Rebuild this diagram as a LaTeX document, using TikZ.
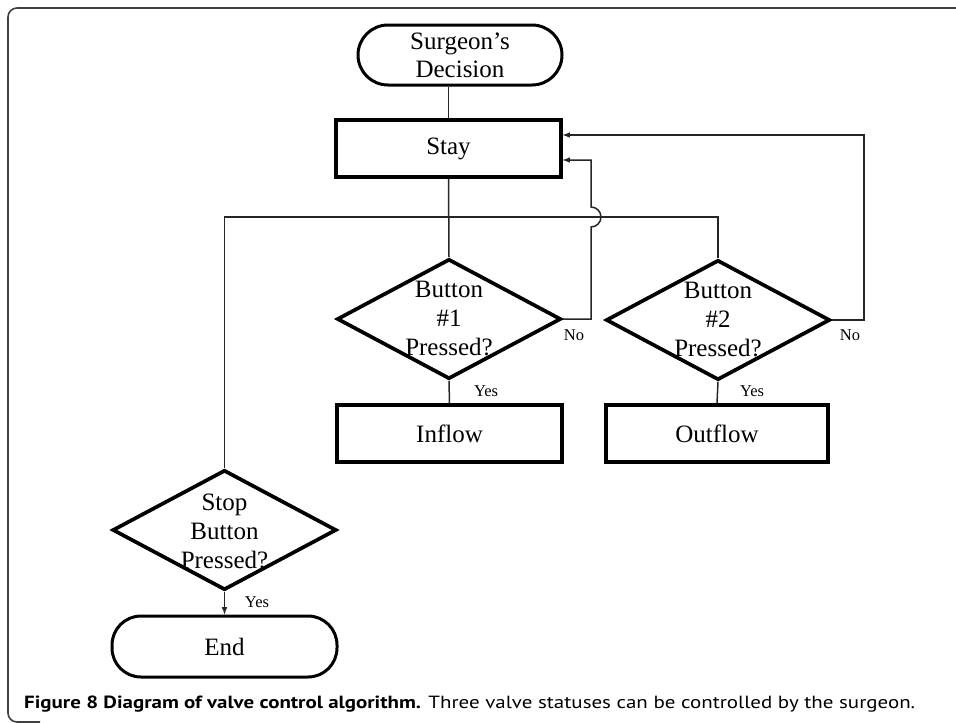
\documentclass[tikz,border=0pt]{standalone}
\usepackage{fontspec}
\setmainfont{Liberation Serif}
\newfontfamily\capfont{PT Sans}
\usetikzlibrary{shapes.geometric,arrows}

\begin{document}
\begin{tikzpicture}[x=1pt,y=-1pt]
	\tikzstyle{terminal}=[draw=black,line width=3pt,rectangle,rounded corners=29pt,minimum width=222pt,minimum height=59pt,font=\fontsize{25}{28}\selectfont,align=center]
	\tikzstyle{process}=[draw=black,line width=3.2pt,rectangle,minimum width=225pt,minimum height=57pt,font=\fontsize{25}{29}\selectfont]
	\tikzstyle{decision}=[draw=black,line width=3.7pt,diamond,inner sep=0pt,minimum width=224pt,minimum height=120pt]
	\tikzstyle{dtext}=[align=center,font=\fontsize{25}{29}\selectfont,inner sep=0pt]
	\tikzstyle{answer}=[font=\fontsize{16.5}{18}\selectfont,inner sep=0pt]
	\tikzstyle{line}=[draw=black!85,line width=1.5pt]
	\tikzstyle{edge}=[draw=black!85,line width=1.5pt,->,>=latex]
	\useasboundingbox (0,0) rectangle (956,723);
	% frame and caption
	\draw[black!75,line width=1.6pt,rounded corners=9pt] (960,8) -- (8,8) -- (8,722) -- (40,722);
	\node[anchor=base west,inner sep=0pt] (caption) at (24,708) {\resizebox{891pt}{12.6pt}{\capfont\textbf{Figure 8 Diagram of valve control algorithm.} Three valve statuses can be controlled by the surgeon.}};
	\begin{scope}
		\node [terminal,minimum width=204pt,minimum height=60pt,rounded corners=30pt] (start) at (460,55) {Surgeon's\\Decision};
		\node [process] (stay) at (448.5,148.5) {Stay};
		\node [decision] (b1) at (449,319) {};
		\node [dtext] (b1t) at (449,318) {Button\\\#1\\Pressed?};
		\node [decision] (b2) at (718,320) {};
		\node [dtext] (b2t) at (718,319) {Button\\\#2\\Pressed?};
		\node [process] (inflow) at (449.5,433.5) {Inflow};
		\node [process,minimum width=222pt] (outflow) at (717,433.5) {Outflow};
		\node [decision] (stop) at (224.5,530) {};
		\node [dtext] (stopt) at (224.5,531) {Stop\\Button\\Pressed?};
		\node [terminal,minimum width=225pt,minimum height=61pt] (end) at (224.5,646.5) {End};
		\coordinate (j) at (449,217);
		\coordinate (jb) at (591,227);
		\coordinate (k1) at (591,160);
		\coordinate (k2) at (864,135);
		\path[line] (stay.north) -- (stay.north |- start.south);
		\path[line] (stay.south) -- (b1.north);
		\path[line] (stop.north) |- (j);
		\path[line] (j) -| (b2.north);
		\path[line] (b1.south) -- (inflow.north);
		\path[line] (b2.south) -- (outflow.north);
		\path[edge] (stop.south) -- (end.north);
		\path[edge] (b1.east) -| (jb) arc[start angle=-90,end angle=90,radius=10pt] -- (k1) -- (k1 -| stay.east);
		\path[edge] (b2.east) -| (k2) -- (k2 -| stay.east);
		\node [answer] (no1) at (574,335) {No};
		\node [answer] (no2) at (850,335) {No};
		\node [answer] (yes1) at (486,391) {Yes};
		\node [answer] (yes2) at (752,391) {Yes};
		\node [answer] (yes3) at (257,602) {Yes};
	\end{scope}
\end{tikzpicture}
\end{document}
